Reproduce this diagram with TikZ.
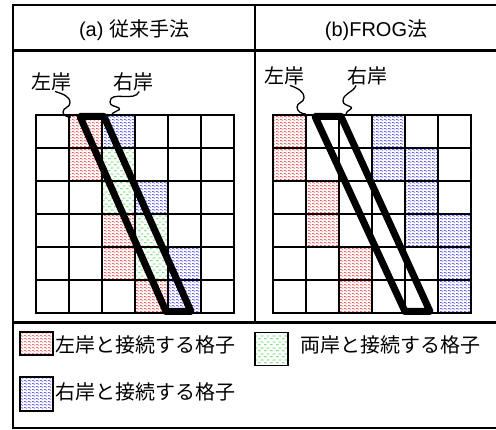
\documentclass[tikz,border=0pt]{standalone}
\usepackage{fontspec}
\setmainfont{Liberation Sans}
\newfontfamily\jp{Noto Sans CJK JP}
\usetikzlibrary{patterns}
\pgfdeclarepatternformonly{wavy}{\pgfpointorigin}{\pgfpoint{4pt}{3pt}}{\pgfpoint{4pt}{3pt}}{%
  \pgfsetlinewidth{0.6pt}%
  \pgfpathmoveto{\pgfpoint{0pt}{1.5pt}}%
  \pgfpathlineto{\pgfpoint{1pt}{2.1pt}}%
  \pgfpathlineto{\pgfpoint{3pt}{0.9pt}}%
  \pgfpathlineto{\pgfpoint{4pt}{1.5pt}}%
  \pgfusepath{stroke}}
\pgfdeclarepatternformonly{dashrows}{\pgfpointorigin}{\pgfpoint{6pt}{6pt}}{\pgfpoint{6pt}{6pt}}{%
  \pgfsetlinewidth{0.8pt}%
  \pgfpathmoveto{\pgfpoint{0pt}{1.5pt}}\pgfpathlineto{\pgfpoint{3pt}{1.5pt}}%
  \pgfpathmoveto{\pgfpoint{3pt}{4.5pt}}\pgfpathlineto{\pgfpoint{6pt}{4.5pt}}%
  \pgfusepath{stroke}}
\definecolor{lcol}{RGB}{230,60,60}
\definecolor{rcol}{RGB}{60,60,225}
\definecolor{bcol}{RGB}{70,210,70}
\tikzset{
  lc/.style={pattern=wavy, pattern color=lcol},
  rc/.style={pattern=wavy, pattern color=rcol},
  bc/.style={pattern=dashrows, pattern color=bcol},
  gridline/.style={line width=2pt, line cap=rect},
  frameline/.style={line width=2pt},
  sepline/.style={line width=3pt},
  bank/.style={line width=7pt, line join=round},
  lab/.style={font=\jp\fontsize{20}{22}\selectfont, inner sep=0pt},
  ttl/.style={font=\fontsize{20}{22}\selectfont, inner sep=0pt},
  wave/.style={line width=1.3pt},
  swatch/.style={draw, line width=1.6pt, minimum width=33pt, inner sep=0pt}
}
\begin{document}
\begin{tikzpicture}[x=1pt,y=-1pt]
\useasboundingbox (0,0) rectangle (496,430);
% frame
\draw[frameline] (13,5) rectangle (510,428);
\draw[sepline] (13,51) -- (510,51);
\draw[sepline] (13,323) -- (510,323);
\draw[frameline] (255,5) -- (255,323);
% titles
\node[ttl] (ta) at (134,30) {(a) {\jp 従来手法}};
\node[ttl] (tb) at (376,30) {(b)FROG{\jp 法}};
% grid (a)
\begin{scope}[shift={(36,115)}, x=33pt, y=-33pt]
  \fill[lc] (1,0) rectangle +(1,1);
  \fill[rc] (2,0) rectangle +(1,1);
  \fill[lc] (1,1) rectangle +(1,1);
  \fill[bc] (2,1) rectangle +(1,1);
  \fill[bc] (2,2) rectangle +(1,1);
  \fill[rc] (3,2) rectangle +(1,1);
  \fill[lc] (2,3) rectangle +(1,1);
  \fill[bc] (3,3) rectangle +(1,1);
  \fill[lc] (2,4) rectangle +(1,1);
  \fill[bc] (3,4) rectangle +(1,1);
  \fill[rc] (4,4) rectangle +(1,1);
  \fill[lc] (3,5) rectangle +(1,1);
  \fill[rc] (4,5) rectangle +(1,1);
  \foreach \i in {0,...,6} {
    \draw[gridline] (\i,0) -- (\i,6);
    \draw[gridline] (0,\i) -- (6,\i);
  }
\end{scope}
% grid (b)
\begin{scope}[shift={(273,115)}, x=33pt, y=-33pt]
  \fill[lc] (0,0) rectangle +(1,1);
  \fill[rc] (3,0) rectangle +(1,1);
  \fill[lc] (0,1) rectangle +(1,1);
  \fill[rc] (3,1) rectangle +(1,1);
  \fill[rc] (4,1) rectangle +(1,1);
  \fill[lc] (1,2) rectangle +(1,1);
  \fill[rc] (4,2) rectangle +(1,1);
  \fill[lc] (1,3) rectangle +(1,1);
  \fill[rc] (4,3) rectangle +(1,1);
  \fill[rc] (5,3) rectangle +(1,1);
  \fill[lc] (2,4) rectangle +(1,1);
  \fill[rc] (5,4) rectangle +(1,1);
  \fill[lc] (2,5) rectangle +(1,1);
  \fill[rc] (5,5) rectangle +(1,1);
  \foreach \i in {0,...,6} {
    \draw[gridline] (\i,0) -- (\i,6);
    \draw[gridline] (0,\i) -- (6,\i);
  }
\end{scope}
% channels
\coordinate (aTL) at (80,116.5);
\coordinate (aTR) at (104,116.5);
\coordinate (aBR) at (191,311.5);
\coordinate (aBL) at (166,311.5);
\draw[bank] (aTL) -- (aTR) -- (aBR) -- (aBL) -- cycle;
\coordinate (bTL) at (315,116.5);
\coordinate (bTR) at (341,116.5);
\coordinate (bBR) at (430,311.5);
\coordinate (bBL) at (405,311.5);
\draw[bank] (bTL) -- (bTR) -- (bBR) -- (bBL) -- cycle;
% labels (a)
\node[lab] (aL) at (51,82) {左岸};
\node[lab] (aR) at (133,82) {右岸};
\coordinate (aLe) at (71,117);
\coordinate (aRe) at (111,116);
\draw[wave] ([xshift=4pt]aL.south) to[out=-20,in=90] (70,103) to[out=-90,in=90] (63,112) to[out=-90,in=180] (aLe);
\draw[wave] ([xshift=-14pt]aR.south east) to[out=-110,in=90] (110,102) to[out=-90,in=150] (119,108) to[out=-30,in=90] (aRe);
% labels (b)
\node[lab] (bL) at (284,76) {左岸};
\node[lab] (bR) at (367,76) {右岸};
\coordinate (bLe) at (306,114);
\coordinate (bRe) at (346,114);
\draw[wave] ([xshift=6pt]bL.south) to[out=-20,in=90] (304,98) to[out=-90,in=90] (297,107) to[out=-90,in=180] (bLe);
\draw[wave] ([xshift=-11pt]bR.south) to[out=-110,in=90] (343,101) to[out=-90,in=150] (351,107) to[out=-30,in=90] (bRe);
% legend
\node[swatch, lc, minimum height=23pt] (sl) at (36.5,343.5) {};
\node[swatch, bc, minimum height=33pt] (sb) at (271.5,349) {};
\node[swatch, rc, minimum height=34pt] (sr) at (36.5,394) {};
\node[lab, anchor=west] (tl) at (55,345) {左岸と接続する格子};
\node[lab, anchor=west] (tbth) at (300,345) {両岸と接続する格子};
\node[lab, anchor=west] (tr) at (55,392) {右岸と接続する格子};
\end{tikzpicture}
\end{document}
